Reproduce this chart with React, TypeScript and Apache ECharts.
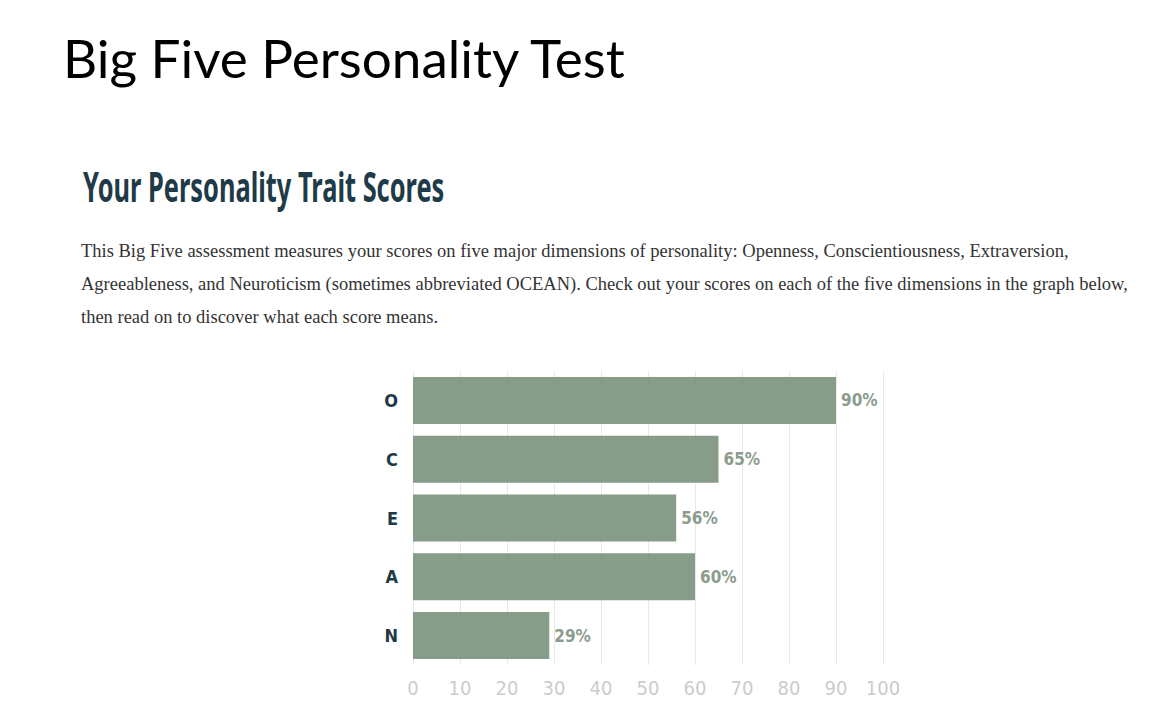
import React, { useEffect, useRef } from "react";
import * as echarts from "echarts";

const categories = ["O", "C", "E", "A", "N"];
const scores = [90, 65, 56, 60, 29];
const axisTicks = [0, 10, 20, 30, 40, 50, 60, 70, 80, 90, 100];
const pageTitle = "Big Five Personality Test";
const heading = "Your Personality Trait Scores";
const paragraphLines = [
  "This Big Five assessment measures your scores on five major dimensions of personality: Openness, Conscientiousness, Extraversion,",
  "Agreeableness, and Neuroticism (sometimes abbreviated OCEAN). Check out your scores on each of the five dimensions in the graph below,",
  "then read on to discover what each score means.",
];

const NARROW = "'DejaVu Sans', sans-serif";

export default function App() {
  const ref = useRef<HTMLDivElement>(null);
  useEffect(() => {
    if (!ref.current) return;
    const chart = echarts.init(ref.current, undefined, { renderer: "svg" });
    chart.setOption({
      animation: false,
      backgroundColor: "#ffffff",
      grid: { left: 413, right: 287, top: 371, bottom: 59, containLabel: false },
      xAxis: {
        type: "value",
        min: 0,
        max: 100,
        interval: 10,
        axisLine: { show: false },
        axisTick: { show: false },
        splitLine: { show: true, lineStyle: { color: "#e8e8e8", width: 1 } },
        axisLabel: {
          color: "#cccccc",
          fontFamily: NARROW,
          fontSize: 20,
          margin: 13,
          formatter: (v: number) => (axisTicks.includes(v) ? String(v) : ""),
        },
      },
      yAxis: {
        type: "category",
        inverse: true,
        data: categories,
        axisLine: { show: false },
        axisTick: { show: false },
        axisLabel: {
          color: "#1f3a44",
          fontFamily: NARROW,
          fontWeight: "bold",
          fontSize: 18,
          margin: 15,
        },
      },
      series: [
        {
          type: "bar",
          data: scores,
          barWidth: 47,
          itemStyle: { color: "rgba(120,142,122,0.88)" },
          label: {
            show: true,
            position: "right",
            distance: 5,
            formatter: "{c}%",
            color: "#8a9c8c",
            fontFamily: NARROW,
            fontWeight: "bold",
            fontSize: 17,
          },
        },
      ],
      graphic: [
        {
          type: "text",
          left: 63,
          top: 31,
          style: {
            text: pageTitle,
            font: "53px Lato, sans-serif",
            fill: "#000000",
          },
        },
        {
          type: "text",
          x: 83,
          y: 165,
          scaleX: 0.605,
          style: {
            text: heading,
            font: "bold 42px 'Noto Sans', sans-serif",
            fill: "#1f3b47",
            verticalAlign: "top",
          },
        },
        ...paragraphLines.map((line, i) => ({
          type: "text",
          left: 81,
          top: 241 + i * 33,
          style: {
            text: line,
            font: "18.5px 'Liberation Serif', serif",
            fill: "#333333",
          },
        })),
      ],
    });
    return () => chart.dispose();
  }, []);
  return (
    <>
      <style>{"#chart-root svg text { font-stretch: condensed !important; }"}</style>
      <div
        id="chart-root"
        ref={ref}
        style={{ position: "fixed", left: 0, top: 0, width: 1170, height: 724 }}
      />
    </>
  );
}
